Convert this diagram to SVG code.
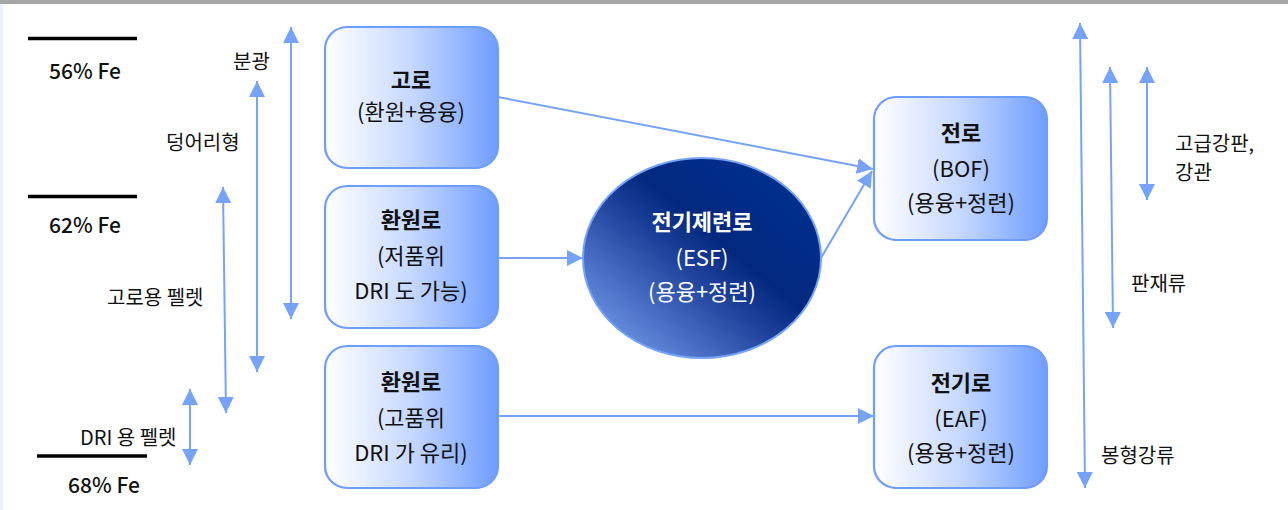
<svg xmlns="http://www.w3.org/2000/svg" width="1288" height="510" viewBox="0 0 1288 510">
<style>
text{font-family:"Noto Sans CJK KR","Noto Sans",sans-serif;fill:#111}
.n{font-size:22px;text-anchor:middle}
.b{font-weight:bold}
.w{fill:#fff}
.s{font-size:20px}
.fe{font-size:21px;text-anchor:middle;font-weight:500}
.box{fill:url(#bg);stroke:#6f9dff;stroke-width:2.2}
.c{stroke:#76a2f8;stroke-width:2;fill:none}
.hl{stroke:#000;stroke-width:3.5}
</style>
<defs>
<linearGradient id="bg" x1="0" y1="0" x2="1" y2="0">
<stop offset="0" stop-color="#ffffff"/>
<stop offset="0.5" stop-color="#c6d8ff"/>
<stop offset="1" stop-color="#6f9dff"/>
</linearGradient>
<linearGradient id="eg" x1="0.1" y1="0.9" x2="0.9" y2="0.1">
<stop offset="0" stop-color="#6d94e6"/>
<stop offset="0.45" stop-color="#1c3f99"/>
<stop offset="0.6" stop-color="#03297f"/>
<stop offset="1" stop-color="#00308f"/>
</linearGradient>
<marker id="a" viewBox="0 0 10 10" refX="10" refY="5" markerWidth="16" markerHeight="16" markerUnits="userSpaceOnUse" orient="auto-start-reverse">
<path d="M0,0 L10,5 L0,10 z" fill="#76a2f8"/>
</marker>
</defs>
<rect x="0" y="0" width="1288" height="510" fill="#fff"/>
<rect x="0" y="0" width="1288" height="4" fill="#a6a6a6"/>
<rect x="0" y="4" width="3" height="506" fill="#eaf1ff"/>

<g id="scale">
<line class="hl" x1="28" y1="38.5" x2="137" y2="38.5"/>
<line class="hl" x1="28" y1="196.5" x2="137" y2="196.5"/>
<line class="hl" x1="37" y1="456" x2="147" y2="456"/>
<text class="fe" x="85" y="79">56% Fe</text>
<text class="fe" x="85" y="233">62% Fe</text>
<text class="fe" x="104" y="493">68% Fe</text>
<text class="s" x="233" y="69">분광</text>
<text class="s" x="166" y="150">덩어리형</text>
<text class="s" x="107" y="305">고로용 펠렛</text>
<text class="s" x="80" y="445">DRI 용 펠렛</text>
<text class="s" x="1175" y="151">고급강판,</text>
<text class="s" x="1175" y="180">강관</text>
<text class="s" x="1131" y="291">판재류</text>
<text class="s" x="1101" y="463">봉형강류</text>
</g>

<g id="n1">
<rect class="box" x="325" y="27" width="173" height="141" rx="22"/>
<text class="n b" x="411" y="88">고로</text>
<text class="n" x="411" y="120">(환원+용융)</text>
</g>
<g id="n2">
<rect class="box" x="325" y="186" width="173" height="142" rx="22"/>
<text class="n b" x="411" y="228">환원로</text>
<text class="n" x="411" y="264">(저품위</text>
<text class="n" x="411" y="299">DRI 도 가능)</text>
</g>
<g id="n3">
<rect class="box" x="325" y="346" width="173" height="142" rx="22"/>
<text class="n b" x="411" y="390">환원로</text>
<text class="n" x="411" y="426">(고품위</text>
<text class="n" x="411" y="461">DRI 가 유리)</text>
</g>
<g id="esf">
<ellipse cx="702" cy="258" rx="119" ry="100" fill="url(#eg)" stroke="#76a2f8" stroke-width="2"/>
<text class="n b w" x="702" y="230">전기제련로</text>
<text class="n w" x="702" y="266">(ESF)</text>
<text class="n w" x="702" y="300">(용융+정련)</text>
</g>
<g id="bof">
<rect class="box" x="874" y="97" width="173" height="143" rx="22"/>
<text class="n b" x="961" y="141">전로</text>
<text class="n" x="961" y="177">(BOF)</text>
<text class="n" x="961" y="211">(용융+정련)</text>
</g>
<g id="eaf">
<rect class="box" x="874" y="346" width="173" height="142" rx="22"/>
<text class="n b" x="961" y="391">전기로</text>
<text class="n" x="961" y="427">(EAF)</text>
<text class="n" x="961" y="461">(용융+정련)</text>
</g>

<g id="connectors">
<line class="c" x1="498" y1="97" x2="873" y2="169" marker-end="url(#a)"/>
<line class="c" x1="498" y1="258" x2="583" y2="258" marker-end="url(#a)"/>
<line class="c" x1="821" y1="258" x2="872" y2="171" marker-end="url(#a)"/>
<line class="c" x1="498" y1="416" x2="874" y2="416" marker-end="url(#a)"/>
<line class="c" x1="291" y1="27" x2="291" y2="319" marker-start="url(#a)" marker-end="url(#a)"/>
<line class="c" x1="257" y1="81" x2="257" y2="372" marker-start="url(#a)" marker-end="url(#a)"/>
<line class="c" x1="223" y1="187" x2="226" y2="413" marker-start="url(#a)" marker-end="url(#a)"/>
<line class="c" x1="190" y1="389" x2="190" y2="465" marker-start="url(#a)" marker-end="url(#a)"/>
<line class="c" x1="1080" y1="23" x2="1085" y2="488" marker-start="url(#a)" marker-end="url(#a)"/>
<line class="c" x1="1110" y1="67" x2="1113" y2="328" marker-start="url(#a)" marker-end="url(#a)"/>
<line class="c" x1="1147" y1="67" x2="1147" y2="200" marker-start="url(#a)" marker-end="url(#a)"/>
</g>
</svg>
